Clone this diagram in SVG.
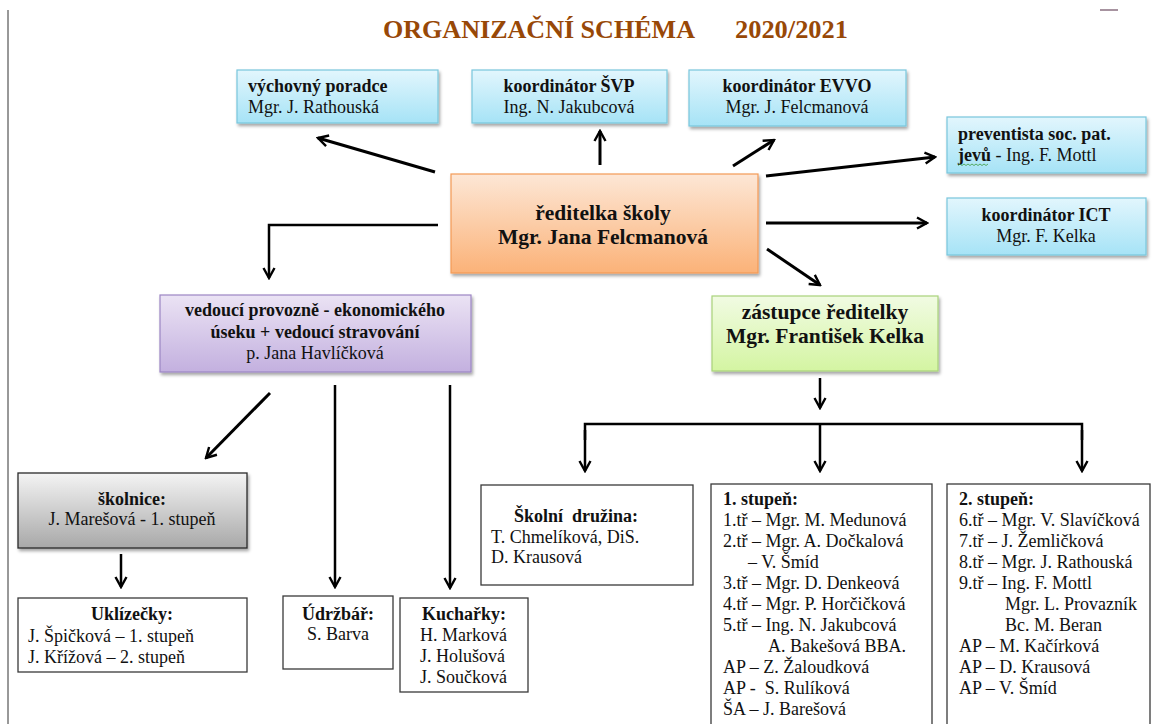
<svg xmlns="http://www.w3.org/2000/svg" width="1152" height="724" viewBox="0 0 1152 724">
<style>
text{font-family:"Liberation Serif","Times New Roman",serif;font-size:18px;fill:#111}
.b{font-weight:bold}
.big{font-size:21.5px;font-weight:bold}
.c{text-anchor:middle}
.title{font-size:26px;font-weight:bold;fill:#984807}
.cy{fill:url(#gCy);stroke:#79c6dd;stroke-width:1.2}
.plain{fill:#fff;stroke:#3a3a3a;stroke-width:1.3}
.ar{fill:none;stroke:#000;stroke-width:3;marker-end:url(#ah)}
.ar2{fill:none;stroke:#000;stroke-width:2.5;marker-end:url(#ah)}
.ln{fill:none;stroke:#000;stroke-width:2.5}
</style>
<defs>
<linearGradient id="gCy" x1="0" y1="0" x2="0" y2="1"><stop offset="0" stop-color="#e2f6fd"/><stop offset="1" stop-color="#a6e3f6"/></linearGradient>
<linearGradient id="gOr" x1="0" y1="0" x2="0" y2="1"><stop offset="0" stop-color="#fde7d6"/><stop offset="1" stop-color="#fbb278"/></linearGradient>
<linearGradient id="gPu" x1="0" y1="0" x2="0" y2="1"><stop offset="0" stop-color="#ebe3f4"/><stop offset="1" stop-color="#c3b0df"/></linearGradient>
<linearGradient id="gGr" x1="0" y1="0" x2="0" y2="1"><stop offset="0" stop-color="#f1fbe3"/><stop offset="1" stop-color="#d4f5a2"/></linearGradient>
<linearGradient id="gGy" x1="0" y1="0" x2="0" y2="1"><stop offset="0" stop-color="#f4f4f4"/><stop offset="1" stop-color="#a8a8a8"/></linearGradient>
<filter id="sh" x="-10%" y="-10%" width="130%" height="140%"><feDropShadow dx="1.5" dy="2.5" stdDeviation="1.5" flood-color="#000" flood-opacity="0.35"/></filter>
<marker id="ah" viewBox="0 0 14 14" refX="12" refY="7" markerWidth="14" markerHeight="14" markerUnits="userSpaceOnUse" orient="auto"><path d="M2,1.5 L12,7 L2,12.5" fill="none" stroke="#000" stroke-width="2.4" stroke-linejoin="miter"/></marker>
</defs>
<rect width="1152" height="724" fill="#fff"/>
<line x1="8" y1="10" x2="8" y2="724" stroke="#333" stroke-width="1"/>
<line x1="1100" y1="10" x2="1118" y2="10" stroke="#8a6f80" stroke-width="1.5"/>
<text x="383" y="38" class="title" textLength="312" lengthAdjust="spacingAndGlyphs">ORGANIZAČNÍ SCHÉMA</text>
<text x="735" y="38" class="title" textLength="113" lengthAdjust="spacingAndGlyphs">2020/2021</text>

<g id="connectors">
<path class="ar" d="M435,172 L318,138"/>
<path class="ar" d="M600,165 L600,131"/>
<path class="ar" d="M733,166 L774,140"/>
<path class="ar" d="M766,176 L935,157"/>
<path class="ar" d="M766,223 L927,223"/>
<path class="ar" d="M767,249 L820,285"/>
<path class="ar2" d="M438,225 L269,225 L269,278"/>
<path class="ar" d="M270,393 L206,458"/>
<path class="ar2" d="M335,385 L335,587"/>
<path class="ar2" d="M450,385 L450,588"/>
<path class="ar2" d="M121,554 L121,587"/>
<path class="ar2" d="M820,378 L820,408"/>
<path class="ln" d="M585,440 L585,424 L1082,424 L1082,440"/>
<path class="ar2" d="M585,430 L585,471"/>
<path class="ar2" d="M820,424 L820,471"/>
<path class="ar2" d="M1082,430 L1082,471"/>
</g>

<g id="vychovny">
<rect x="237" y="70" width="201" height="53" class="cy" filter="url(#sh)"/>
<text x="248" y="92" class="b">výchovný poradce</text>
<text x="248" y="113">Mgr. J. Rathouská</text>
</g>
<g id="svp">
<rect x="472" y="70" width="195" height="53" class="cy" filter="url(#sh)"/>
<text x="569" y="92" class="b c">koordinátor ŠVP</text>
<text x="569" y="113" class="c">Ing. N. Jakubcová</text>
</g>
<g id="evvo">
<rect x="689" y="70" width="217" height="56" class="cy" filter="url(#sh)"/>
<text x="797" y="92" class="b c">koordinátor EVVO</text>
<text x="797" y="113" class="c">Mgr. J. Felcmanová</text>
</g>
<g id="preventista">
<rect x="947" y="117" width="199" height="56" class="cy" filter="url(#sh)"/>
<text x="958" y="140" class="b">preventista soc. pat.</text>
<text x="958" y="161"><tspan class="b">jevů</tspan> - Ing. F. Mottl</text>
<path d="M958,165.5 l2,-1.5 l2,1.5 l2,-1.5 l2,1.5 l2,-1.5 l2,1.5 l2,-1.5 l2,1.5 l2,-1.5 l2,1.5 l2,-1.5 l2,1.5 l2,-1.5 l2,1.5 l2,-1.5" fill="none" stroke="#3c9a3c" stroke-width="0.8"/>
</g>
<g id="ict">
<rect x="947" y="198" width="199" height="57" class="cy" filter="url(#sh)"/>
<text x="1046" y="221" class="b c">koordinátor ICT</text>
<text x="1046" y="242" class="c">Mgr. F. Kelka</text>
</g>
<g id="reditelka">
<rect x="451" y="174" width="307" height="99" fill="url(#gOr)" stroke="#f39a55" stroke-width="1.2" filter="url(#sh)"/>
<text x="603" y="220" class="big c">ředitelka školy</text>
<text x="603" y="244" class="big c">Mgr. Jana Felcmanová</text>
</g>
<g id="provozni">
<rect x="160" y="295" width="311" height="77" fill="url(#gPu)" stroke="#9c85c4" stroke-width="1.2" filter="url(#sh)"/>
<text x="315" y="316" class="b c">vedoucí provozně - ekonomického</text>
<text x="315" y="338" class="b c">úseku + vedoucí stravování</text>
<text x="315" y="359" class="c">p. Jana Havlíčková</text>
</g>
<g id="zastupce">
<rect x="712" y="296" width="226" height="75" fill="url(#gGr)" stroke="#a9d37b" stroke-width="1.2" filter="url(#sh)"/>
<text x="825" y="319" class="big c">zástupce ředitelky</text>
<text x="825" y="343" class="big c">Mgr. František Kelka</text>
</g>
<g id="skolnice">
<rect x="18" y="473" width="229" height="75" fill="url(#gGy)" stroke="#2a2a2a" stroke-width="1.3" filter="url(#sh)"/>
<text x="132" y="505" class="b c">školnice:</text>
<text x="132" y="525" class="c">J. Marešová - 1. stupeň</text>
</g>
<g id="uklizecky">
<rect x="18" y="598" width="229" height="74" class="plain"/>
<text x="132" y="620" class="b c">Uklízečky:</text>
<text x="28" y="642">J. Špičková – 1. stupeň</text>
<text x="28" y="663">J. Křížová – 2. stupeň</text>
</g>
<g id="udrzbar">
<rect x="283" y="596" width="110" height="73" class="plain"/>
<text x="338" y="620" class="b c">Údržbář:</text>
<text x="338" y="640" class="c">S. Barva</text>
</g>
<g id="kucharky">
<rect x="400" y="598" width="128" height="94" class="plain"/>
<text x="464" y="620" class="b c">Kuchařky:</text>
<text x="420" y="641">H. Marková</text>
<text x="420" y="662">J. Holušová</text>
<text x="420" y="683">J. Součková</text>
</g>
<g id="druzina">
<rect x="481" y="485" width="212" height="100" class="plain"/>
<text x="514" y="522" class="b" xml:space="preserve">Školní  družina:</text>
<text x="491" y="543">T. Chmelíková, DiS.</text>
<text x="491" y="563">D. Krausová</text>
</g>
<g id="stupen1">
<rect x="711" y="484" width="221" height="250" class="plain"/>
<text x="723" y="505" class="b">1. stupeň:</text>
<text x="723" y="526">1.tř – Mgr. M. Medunová</text>
<text x="723" y="547">2.tř – Mgr. A. Dočkalová</text>
<text x="748" y="568">– V. Šmíd</text>
<text x="723" y="589">3.tř – Mgr. D. Denkeová</text>
<text x="723" y="610">4.tř – Mgr. P. Horčičková</text>
<text x="723" y="631">5.tř – Ing. N. Jakubcová</text>
<text x="768" y="652">A. Bakešová BBA.</text>
<text x="723" y="673">AP – Z. Žaloudková</text>
<text x="723" y="694" xml:space="preserve">AP -  S. Rulíková</text>
<text x="723" y="715">ŠA – J. Barešová</text>
</g>
<g id="stupen2">
<rect x="947" y="484" width="203" height="250" class="plain"/>
<text x="959" y="505" class="b">2. stupeň:</text>
<text x="959" y="526">6.tř – Mgr. V. Slavíčková</text>
<text x="959" y="547">7.tř – J. Žemličková</text>
<text x="959" y="568">8.tř – Mgr. J. Rathouská</text>
<text x="959" y="589">9.tř – Ing. F. Mottl</text>
<text x="1005" y="610">Mgr. L. Provazník</text>
<text x="1005" y="631">Bc. M. Beran</text>
<text x="959" y="652">AP – M. Kačírková</text>
<text x="959" y="673">AP – D. Krausová</text>
<text x="959" y="694">AP – V. Šmíd</text>
</g>
</svg>
